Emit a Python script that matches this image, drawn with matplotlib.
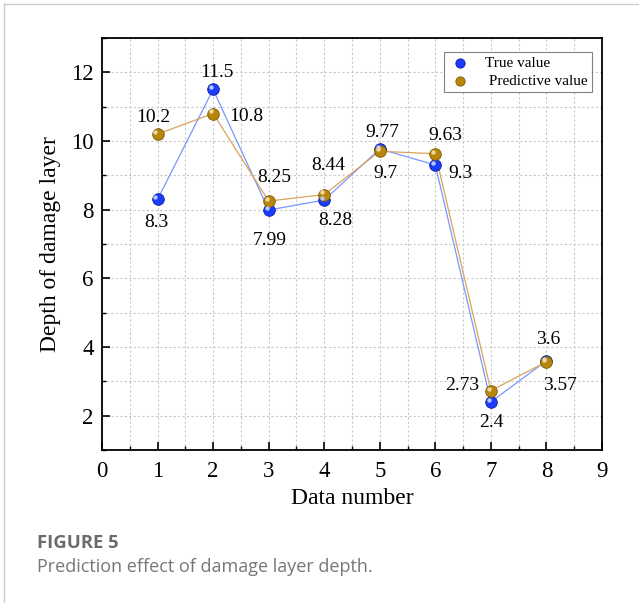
import matplotlib
matplotlib.use('Agg')
import matplotlib.pyplot as plt
import matplotlib.transforms as mtransforms
from matplotlib.lines import Line2D
from matplotlib.ticker import MultipleLocator

# data
data_number = [1, 2, 3, 4, 5, 6, 7, 8]
true_value = [8.3, 11.5, 7.99, 8.28, 9.77, 9.3, 2.4, 3.6]
pred_value = [10.2, 10.8, 8.25, 8.44, 9.7, 9.63, 2.73, 3.57]
true_labels = ['8.3', '11.5', '7.99', '8.28', '9.77', '9.3', '2.4', '3.6']
pred_labels = ['10.2', '10.8', '8.25', '8.44', '9.7', '9.63', '2.73', '3.57']

# label offsets in points (layout only)
true_off = [(-1, -17), (3, 12), (1, -22), (8, -15), (2, 12), (18, -6), (0, -15), (1, 15)]
pred_off = [(-3, 12), (24, -2), (4, 17), (3, 21), (4, -16), (7, 13), (-21, 4), (10, -17)]

plt.rcParams['font.family'] = ['Liberation Serif', 'DejaVu Serif']

fig = plt.figure(figsize=(6.39, 6.03), dpi=100)
ax = fig.add_axes([0.1596, 0.2537, 0.7825, 0.6833])

blue_line = '#7a96ff'
gold_line = '#d9a45c'
blue = '#1a3cff'
gold = '#b8860b'

ax.plot(data_number, true_value, color=blue_line, lw=0.9, zorder=3)
ax.plot(data_number, pred_value, color=gold_line, lw=0.9, zorder=3)
ax.scatter(data_number, true_value, s=70, color=blue, edgecolor='#0a1f9a', lw=0.6, zorder=4, label='True value')
ax.scatter(data_number, pred_value, s=70, color=gold, edgecolor='#7a5a08', lw=0.6, zorder=4, label=' Predictive value')

# little highlight to mimic the shaded balls
shift = mtransforms.ScaledTranslation(-1.5 / 72, 1.5 / 72, fig.dpi_scale_trans)
ax.scatter(data_number, true_value, s=10, color='#b8c8ff', lw=0, zorder=5, transform=ax.transData + shift)
ax.scatter(data_number, pred_value, s=10, color='#f0d8a0', lw=0, zorder=5, transform=ax.transData + shift)

for x, y, t, o in zip(data_number, true_value, true_labels, true_off):
    ax.annotate(t, (x, y), xytext=o, textcoords='offset points', ha='center', va='center', fontsize=14)
for x, y, t, o in zip(data_number, pred_value, pred_labels, pred_off):
    ax.annotate(t, (x, y), xytext=o, textcoords='offset points', ha='center', va='center', fontsize=14)

ax.set_xlim(0, 9)
ax.set_ylim(1, 13)
ax.xaxis.set_major_locator(MultipleLocator(1))
ax.xaxis.set_minor_locator(MultipleLocator(0.5))
ax.yaxis.set_major_locator(MultipleLocator(2))
ax.yaxis.set_minor_locator(MultipleLocator(1))
ax.tick_params(which='major', direction='in', length=6, width=1.2, labelsize=16.5, pad=6)
ax.tick_params(axis='x', which='major', pad=8)
ax.tick_params(which='minor', direction='in', length=3, width=1)
ax.grid(which='both', color='#c8c8c8', ls=(0, (2, 2)), lw=0.8)
for s in ax.spines.values():
    s.set_linewidth(1.3)

ax.set_xlabel('Data number', fontsize=17, labelpad=4)
ax.set_ylabel('Depth of damage layer', fontsize=17, labelpad=7)

leg = ax.legend(loc='upper right', bbox_to_anchor=(0.98, 0.966), borderaxespad=0, fontsize=11,
                fancybox=False, framealpha=1, edgecolor='#808080', handletextpad=0.8,
                borderpad=0.3, labelspacing=0.25, handlelength=1.6, markerscale=0.8)
leg.get_frame().set_linewidth(0.8)

# page frame and caption
fig.add_artist(Line2D([4 / 639, 4 / 639], [0, 1 - 4 / 603], color='#cccccc', lw=1))
fig.add_artist(Line2D([4 / 639, 1], [1 - 4 / 603, 1 - 4 / 603], color='#cccccc', lw=1))
fig.text(37 / 639, 1 - 543 / 603, 'FIGURE 5', fontsize=13.3, fontweight='bold', color='#6b6b6b',
         family='Open Sans', va='center')
fig.text(37 / 639, 1 - 567 / 603, 'Prediction effect of damage layer depth.', fontsize=13,
         color='#777777', family='Open Sans', va='center')

fig.savefig('out.png', dpi=100)
